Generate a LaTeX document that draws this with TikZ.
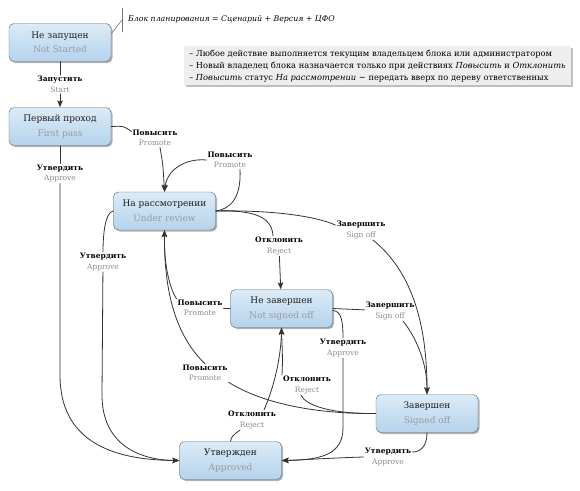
\documentclass[tikz,border=0pt]{standalone}
\usepackage{fontspec}
\setmainfont{DejaVu Serif}
\usetikzlibrary{arrows.meta,shadows}

\newcommand{\statetext}[2]{\textcolor{titlecolor}{#1}\\\textcolor{subcolor}{#2}}
\newcommand{\acttext}[2]{\textbf{#1}\\\textcolor{actcolor}{#2}}

\begin{document}
\begin{tikzpicture}
			[x=1pt,y=-1pt,line cap=round,
			%Styles
			state box/.style={draw=boxborder,rounded corners=5pt,top color=boxtop,bottom color=boxbottom,
				minimum width=102pt,minimum height=38pt,align=center,font=\fontsize{9}{14.5}\selectfont,
				drop shadow={shadow xshift=1.5pt,shadow yshift=-1.5pt,fill=black,opacity=0.3}},
			action text/.style={align=center,inner sep=1pt,font=\fontsize{7.5}{10.5}\selectfont},
			flow line/.style={draw=flowcolor,line width=0.8pt},
			flow arrow/.style={flow line,-{Stealth[length=7pt,width=5.5pt,inset=1.5pt]}},
			note line/.style={draw=notegray,line width=0.6pt},
			note box/.style={fill=notefill,align=left,inner xsep=5pt,inner ysep=3.5pt,
				font=\fontsize{8.3}{12}\selectfont,
				drop shadow={shadow xshift=2pt,shadow yshift=-2pt,fill=black,opacity=0.25}}
			]
			
			%Colors
			\definecolor{boxtop}{HTML}{DCEBF7}
			\definecolor{boxbottom}{HTML}{B4D3EC}
			\definecolor{boxborder}{HTML}{5C6670}
			\definecolor{titlecolor}{HTML}{1E1E1E}
			\definecolor{subcolor}{HTML}{9A9A9A}
			\definecolor{actcolor}{HTML}{8A8A8A}
			\definecolor{flowcolor}{HTML}{333333}
			\definecolor{notegray}{HTML}{777777}
			\definecolor{notefill}{HTML}{EEEEEE}
			
			\useasboundingbox (0,0) rectangle (580,490);
			
			%States
			\node[state box] (notstarted) at (60,42.5) {\statetext{Не запущен}{Not Started}};
			\node[state box] (firstpass) at (60,126.5) {\statetext{Первый проход}{First pass}};
			\node[state box] (review) at (164.5,211) {\statetext{На рассмотрении}{Under review}};
			\node[state box] (notsigned) at (281.5,308.5) {\statetext{Не завершен}{Not signed off}};
			\node[state box] (signed) at (427,413.5) {\statetext{Завершен}{Signed off}};
			\node[state box] (approved) at (230.5,460.5) {\statetext{Утвержден}{Approved}};
			
			%Actions
			\node[action text] (start) at (60,84.5) {\acttext{Запустить}{Start}};
			\node[action text] (fpromote) at (155,138) {\acttext{Повысить}{Promote}};
			\node[action text] (fapprove) at (60,173.5) {\acttext{Утвердить}{Approve}};
			\node[action text] (rpromote) at (230,160) {\acttext{Повысить}{Promote}};
			\node[action text] (rsign) at (361,230) {\acttext{Завершить}{Sign off}};
			\node[action text] (rreject) at (279,246) {\acttext{Отклонить}{Reject}};
			\node[action text] (rapprove) at (103,262) {\acttext{Утвердить}{Approve}};
			\node[action text] (npromote) at (200,308) {\acttext{Повысить}{Promote}};
			\node[action text] (nsign) at (390,311) {\acttext{Завершить}{Sign off}};
			\node[action text] (napprove) at (343,348) {\acttext{Утвердить}{Approve}};
			\node[action text] (spromote) at (205,373) {\acttext{Повысить}{Promote}};
			\node[action text] (sreject) at (307,385) {\acttext{Отклонить}{Reject}};
			\node[action text] (areject) at (252,420) {\acttext{Отклонить}{Reject}};
			\node[action text] (sapprove) at (388,457) {\acttext{Утвердить}{Approve}};
			
			%Notes
			\node[anchor=west,inner sep=0pt,font=\fontsize{7.8}{12}\selectfont\itshape] (blockdef) at (128,19.5)
				{Блок планирования = Сценарий + Версия + ЦФО};
			\coordinate (bracket) at (122,20);
			\draw[note line] (122,8) -- (122,32);
			\draw[note line] ([yshift=-10.5pt]notstarted.north east) -- (bracket);
			\node[note box,anchor=north west] (rules) at (184,46)
				{– Любое действие выполняется текущим владельцем блока или администратором\\
				 – Новый владелец блока назначается только при действиях \textit{Повысить} и \textit{Отклонить}\\
				 \textit{– Повысить} статус \textit{На рассмотрении} \textasciitilde{} передать вверх по дереву ответственных};
			
			%Transitions
			\draw[flow line] (notstarted) -- (start);
			\draw[flow arrow] (start) -- (firstpass);
			
			\draw[flow line] (firstpass.east) .. controls (124,126) .. (fpromote.165);
			\draw[flow arrow] ([xshift=5pt]fpromote.south) .. controls (163,165) .. (review.north);
			
			\draw[flow line] (firstpass) -- (fapprove);
			\draw[flow arrow] (fapprove) -- (60,375) .. controls (60,440) and (110,460) .. (approved.west);
			
			\draw[flow line] (review.east) .. controls (236,208) and (241,190) .. ([xshift=10pt]rpromote.south);
			\draw[flow arrow] (rpromote.west) .. controls (185,158) and (167,170) .. (review.north);
			
			\draw[flow line] (review.east) .. controls (260,210) and (310,214) .. ([yshift=5pt]rsign.west);
			\draw[flow arrow] ([xshift=12pt]rsign.south) .. controls (410,270) and (427,320) .. (signed.north);
			
			\draw[flow line] (review.east) .. controls (250,210) and (272,215) .. ([xshift=-6pt]rreject.north);
			\draw[flow arrow] (rreject) -- (notsigned);
			
			\draw[flow line] (review.west) .. controls (105,212) and (103,235) .. (rapprove.north);
			\draw[flow arrow] (rapprove) -- (102,395) .. controls (102,445) and (140,460) .. (approved.west);
			
			\draw[flow line] (notsigned.west) -- (npromote);
			\draw[flow arrow] (npromote.north west) .. controls (168,285) and (164,260) .. (review.south);
			
			\draw[flow line] (notsigned.east) -- (nsign);
			\draw[flow arrow] ([xshift=13pt]nsign.south) .. controls (418,340) and (427,365) .. (signed.north);
			
			\draw[flow line] ([yshift=-2pt]notsigned.east) .. controls (341,311) and (343,320) .. (napprove.north);
			\draw[flow arrow] (napprove) -- (343,428) .. controls (343,455) and (320,460) .. (approved.east);
			
			\draw[flow line] (signed.west) .. controls (320,414) and (265,405) .. (spromote.south east);
			\draw[flow arrow] (spromote.north) .. controls (175,335) and (164,290) .. (review.south);
			
			\draw[flow line] (signed.west) .. controls (330,414) and (305,405) .. ([xshift=-6pt]sreject.south);
			\draw[flow arrow] (sreject.north west) .. controls (283,360) and (282,345) .. (notsigned.south);
			
			\draw[flow line] (approved.north) .. controls (232,436) .. ([xshift=-12pt]areject.south);
			\draw[flow arrow] ([xshift=12pt]areject.north) .. controls (275,385) and (281,355) .. (notsigned.south);
			
			\draw[flow line] (signed.south) .. controls (427,447) and (420,452) .. ([yshift=5pt]sapprove.east);
			\draw[flow arrow] (sapprove.west) .. controls (330,458) and (300,460) .. (approved.east);
		\end{tikzpicture}
\end{document}
